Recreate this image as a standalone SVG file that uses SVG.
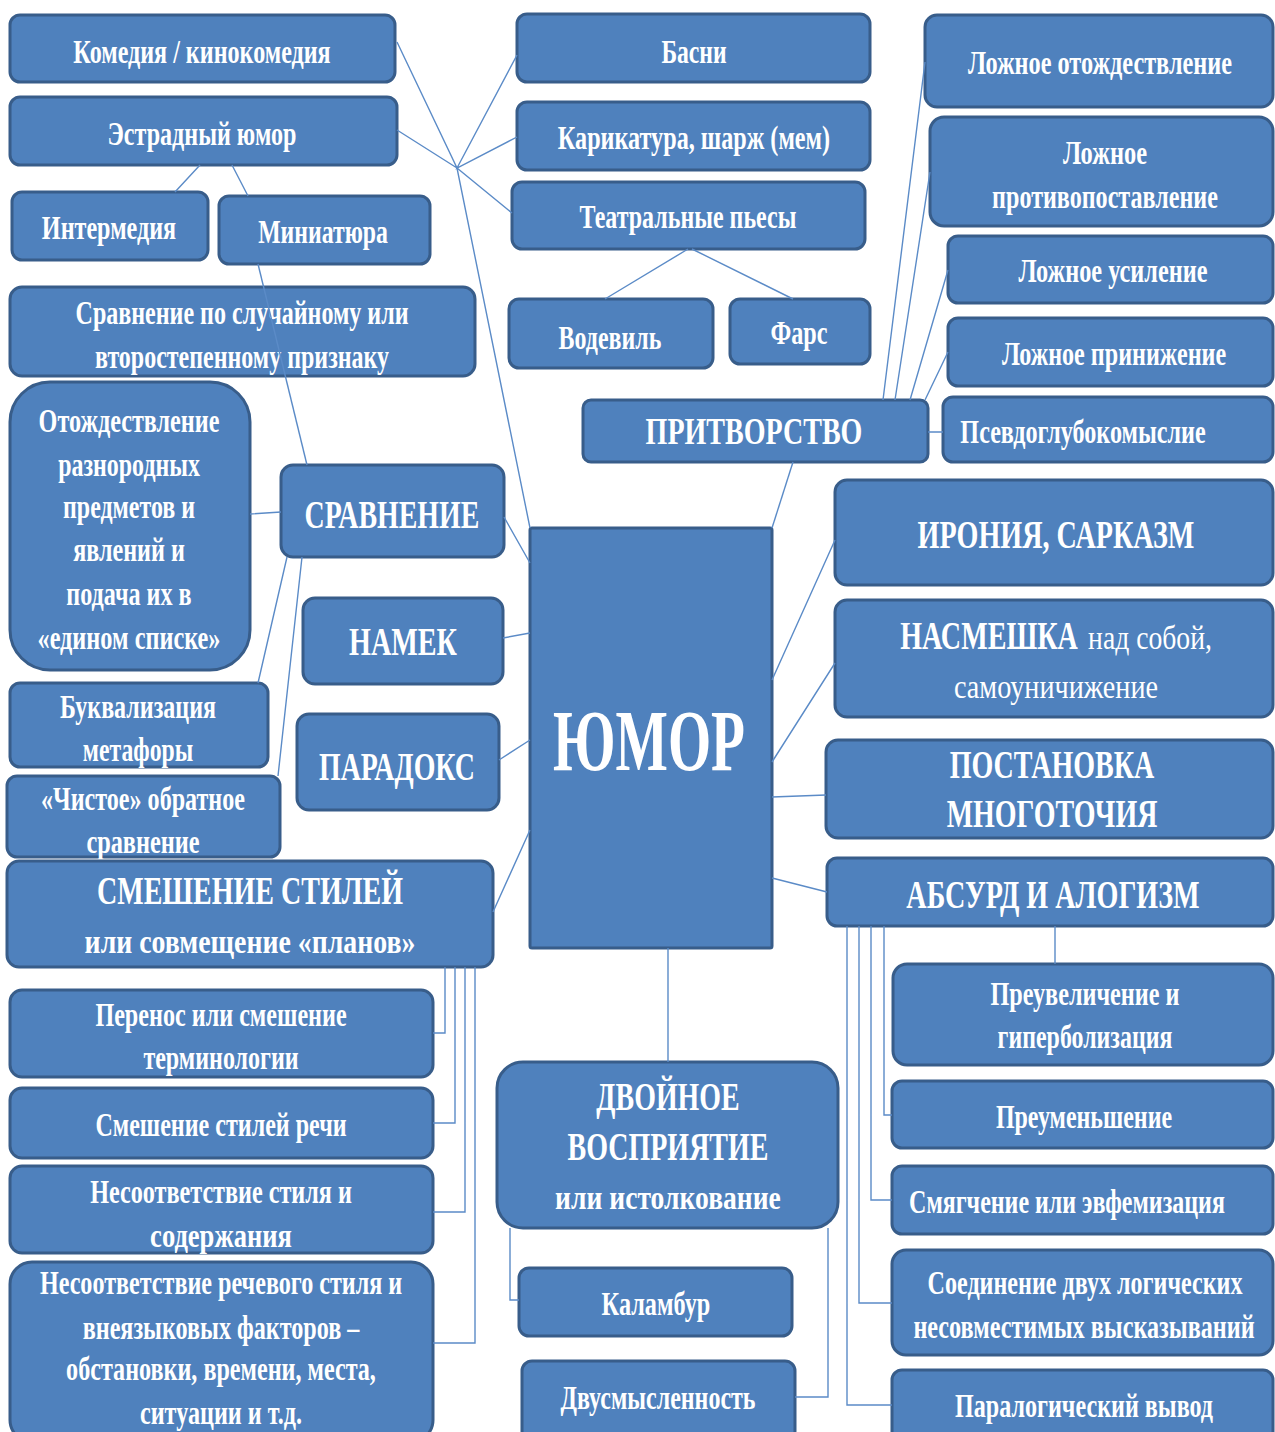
<svg xmlns="http://www.w3.org/2000/svg" width="1275" height="1432" viewBox="0 0 1275 1432">
<style>
.n rect{fill:#4F81BD;stroke:#385D8A;stroke-width:3}
text{font-family:"Liberation Serif","Times New Roman",serif;font-weight:bold;fill:#fff;text-anchor:middle;font-size:33px;transform-box:fill-box;transform-origin:center;transform:scaleX(0.75)}
.h{font-size:39px}
.r{font-weight:normal}
.c{stroke:#5B8BC7;stroke-width:1.4;fill:none}
</style>
<rect width="1275" height="1432" fill="#fff"/>
<g id="n1" class="n"><rect x="10" y="15" width="385" height="67" rx="10"/><text x="202" y="63" textLength="343" lengthAdjust="spacingAndGlyphs">Комедия / кинокомедия</text></g>
<g id="n2" class="n"><rect x="10" y="97" width="387" height="68" rx="10"/><text x="202" y="145" textLength="252" lengthAdjust="spacingAndGlyphs">Эстрадный юмор</text></g>
<g id="n3" class="n"><rect x="12" y="192" width="196" height="68" rx="10"/><text x="109" y="239" textLength="179" lengthAdjust="spacingAndGlyphs">Интермедия</text></g>
<g id="n4" class="n"><rect x="219" y="196" width="211" height="68" rx="10"/><text x="323" y="243" textLength="173" lengthAdjust="spacingAndGlyphs">Миниатюра</text></g>
<g id="n5" class="n"><rect x="517" y="14" width="353" height="68" rx="10"/><text x="694" y="63" textLength="87" lengthAdjust="spacingAndGlyphs">Басни</text></g>
<g id="n6" class="n"><rect x="517" y="102" width="353" height="68" rx="10"/><text x="694" y="149" textLength="363" lengthAdjust="spacingAndGlyphs">Карикатура, шарж (мем)</text></g>
<g id="n7" class="n"><rect x="512" y="182" width="353" height="67" rx="10"/><text x="688" y="228" textLength="289" lengthAdjust="spacingAndGlyphs">Театральные пьесы</text></g>
<g id="n8" class="n"><rect x="509" y="299" width="204" height="69" rx="10"/><text x="610" y="349" textLength="137" lengthAdjust="spacingAndGlyphs">Водевиль</text></g>
<g id="n9" class="n"><rect x="730" y="299" width="140" height="65" rx="10"/><text x="799" y="344" textLength="76" lengthAdjust="spacingAndGlyphs">Фарс</text></g>
<g id="n10" class="n"><rect x="925" y="15" width="348" height="92" rx="12"/><text x="1100" y="74" textLength="352" lengthAdjust="spacingAndGlyphs">Ложное отождествление</text></g>
<g id="n11" class="n"><rect x="930" y="117" width="343" height="109" rx="14"/><text x="1105" y="164" textLength="112" lengthAdjust="spacingAndGlyphs">Ложное</text><text x="1105" y="208" textLength="301" lengthAdjust="spacingAndGlyphs">противопоставление</text></g>
<g id="n12" class="n"><rect x="948" y="236" width="325" height="67" rx="10"/><text x="1113" y="282" textLength="252" lengthAdjust="spacingAndGlyphs">Ложное усиление</text></g>
<g id="n13" class="n"><rect x="948" y="318" width="325" height="68" rx="10"/><text x="1114" y="365" textLength="299" lengthAdjust="spacingAndGlyphs">Ложное принижение</text></g>
<g id="n14" class="n"><rect x="943" y="397" width="330" height="65" rx="10"/><text x="1083" y="443" textLength="327" lengthAdjust="spacingAndGlyphs">Псевдоглубокомыслие</text></g>
<g id="n15" class="n"><rect x="583" y="400" width="345" height="62" rx="8"/><text class="h" x="754" y="444" style="font-size:37px" textLength="289" lengthAdjust="spacingAndGlyphs">ПРИТВОРСТВО</text></g>
<g id="n16" class="n"><rect x="10" y="287" width="465" height="89" rx="12"/><text x="242" y="324" textLength="444" lengthAdjust="spacingAndGlyphs">Сравнение по случайному или</text><text x="242" y="368" textLength="392" lengthAdjust="spacingAndGlyphs">второстепенному признаку</text></g>
<g id="n17" class="n"><rect x="10" y="382" width="240" height="288" rx="40"/><text x="129" y="432" textLength="241" lengthAdjust="spacingAndGlyphs">Отождествление</text><text x="129" y="476" textLength="189" lengthAdjust="spacingAndGlyphs">разнородных</text><text x="129" y="518" textLength="176" lengthAdjust="spacingAndGlyphs">предметов и</text><text x="129" y="561" textLength="149" lengthAdjust="spacingAndGlyphs">явлений и</text><text x="129" y="605" textLength="167" lengthAdjust="spacingAndGlyphs">подача их в</text><text x="129" y="649" textLength="244" lengthAdjust="spacingAndGlyphs">«едином списке»</text></g>
<g id="n18" class="n"><rect x="281" y="465" width="223" height="92" rx="12"/><text class="h" x="392" y="528" textLength="233" lengthAdjust="spacingAndGlyphs">СРАВНЕНИЕ</text></g>
<g id="n19" class="n"><rect x="303" y="598" width="200" height="86" rx="12"/><text class="h" x="403" y="655" textLength="144" lengthAdjust="spacingAndGlyphs">НАМЕК</text></g>
<g id="n20" class="n"><rect x="297" y="714" width="202" height="96" rx="12"/><text class="h" x="397" y="780" textLength="208" lengthAdjust="spacingAndGlyphs">ПАРАДОКС</text></g>
<g id="n21" class="n"><rect x="10" y="683" width="258" height="84" rx="10"/><text x="138" y="718" textLength="208" lengthAdjust="spacingAndGlyphs">Буквализация</text><text x="138" y="761" textLength="147" lengthAdjust="spacingAndGlyphs">метафоры</text></g>
<g id="n22" class="n"><rect x="7" y="776" width="273" height="81" rx="10"/><text x="143" y="810" textLength="272" lengthAdjust="spacingAndGlyphs">«Чистое» обратное</text><text x="143" y="853" textLength="151" lengthAdjust="spacingAndGlyphs">сравнение</text></g>
<g id="n23" class="n"><rect x="7" y="861" width="486" height="106" rx="12"/><text x="250" y="904" style="font-size:41px" textLength="408" lengthAdjust="spacingAndGlyphs">СМЕШЕНИЕ СТИЛЕЙ</text><text x="250" y="953" style="font-size:34px" textLength="441" lengthAdjust="spacingAndGlyphs">или совмещение «планов»</text></g>
<g id="n24" class="n"><rect x="530" y="528" width="242" height="420" rx="2"/><text x="649" y="770" style="font-size:86px" textLength="256" lengthAdjust="spacingAndGlyphs">ЮМОР</text></g>
<g id="n25" class="n"><rect x="835" y="480" width="438" height="105" rx="12"/><text class="h" x="1056" y="548" textLength="369" lengthAdjust="spacingAndGlyphs">ИРОНИЯ, САРКАЗМ</text></g>
<g id="n26" class="n"><rect x="835" y="600" width="438" height="117" rx="12"/><text class="h" x="989" y="649" textLength="237" lengthAdjust="spacingAndGlyphs">НАСМЕШКА</text><text class="r" x="1150" y="649" textLength="165" lengthAdjust="spacingAndGlyphs">над собой,</text><text class="r" x="1056" y="698" textLength="272" lengthAdjust="spacingAndGlyphs">самоуничижение</text></g>
<g id="n27" class="n"><rect x="826" y="740" width="447" height="98" rx="12"/><text class="h" x="1052" y="778" textLength="273" lengthAdjust="spacingAndGlyphs">ПОСТАНОВКА</text><text class="h" x="1052" y="827" textLength="281" lengthAdjust="spacingAndGlyphs">МНОГОТОЧИЯ</text></g>
<g id="n28" class="n"><rect x="827" y="858" width="446" height="68" rx="10"/><text class="h" x="1053" y="908" textLength="391" lengthAdjust="spacingAndGlyphs">АБСУРД И АЛОГИЗМ</text></g>
<g id="n29" class="n"><rect x="10" y="990" width="423" height="87" rx="12"/><text x="221" y="1026" textLength="335" lengthAdjust="spacingAndGlyphs">Перенос или смешение</text><text x="221" y="1069" textLength="207" lengthAdjust="spacingAndGlyphs">терминологии</text></g>
<g id="n30" class="n"><rect x="10" y="1088" width="423" height="70" rx="12"/><text x="221" y="1136" textLength="335" lengthAdjust="spacingAndGlyphs">Смешение стилей речи</text></g>
<g id="n31" class="n"><rect x="10" y="1166" width="423" height="87" rx="12"/><text x="221" y="1203" textLength="349" lengthAdjust="spacingAndGlyphs">Несоответствие стиля и</text><text x="221" y="1247" textLength="189" lengthAdjust="spacingAndGlyphs">содержания</text></g>
<g id="n32" class="n"><rect x="10" y="1262" width="423" height="180" rx="22"/><text x="221" y="1294" textLength="483" lengthAdjust="spacingAndGlyphs">Несоответствие речевого стиля и</text><text x="221" y="1339" textLength="369" lengthAdjust="spacingAndGlyphs">внеязыковых факторов –</text><text x="221" y="1380" textLength="413" lengthAdjust="spacingAndGlyphs">обстановки, времени, места,</text><text x="221" y="1424" textLength="216" lengthAdjust="spacingAndGlyphs">ситуации и т.д.</text></g>
<g id="n33" class="n"><rect x="497" y="1062" width="341" height="166" rx="26"/><text class="h" x="668" y="1110" textLength="191" lengthAdjust="spacingAndGlyphs">ДВОЙНОЕ</text><text class="h" x="668" y="1160" textLength="268" lengthAdjust="spacingAndGlyphs">ВОСПРИЯТИЕ</text><text x="668" y="1209" style="font-size:34px" textLength="301" lengthAdjust="spacingAndGlyphs">или истолкование</text></g>
<g id="n34" class="n"><rect x="519" y="1268" width="273" height="68" rx="10"/><text x="656" y="1315" textLength="145" lengthAdjust="spacingAndGlyphs">Каламбур</text></g>
<g id="n35" class="n"><rect x="522" y="1361" width="273" height="80" rx="10"/><text x="658" y="1409" textLength="260" lengthAdjust="spacingAndGlyphs">Двусмысленность</text></g>
<g id="n36" class="n"><rect x="893" y="964" width="380" height="101" rx="14"/><text x="1085" y="1005" textLength="252" lengthAdjust="spacingAndGlyphs">Преувеличение и</text><text x="1085" y="1048" textLength="233" lengthAdjust="spacingAndGlyphs">гиперболизация</text></g>
<g id="n37" class="n"><rect x="892" y="1081" width="381" height="67" rx="10"/><text x="1084" y="1128" textLength="235" lengthAdjust="spacingAndGlyphs">Преуменьшение</text></g>
<g id="n38" class="n"><rect x="892" y="1166" width="381" height="68" rx="10"/><text x="1067" y="1213" textLength="421" lengthAdjust="spacingAndGlyphs">Смягчение или эвфемизация</text></g>
<g id="n39" class="n"><rect x="892" y="1250" width="381" height="105" rx="14"/><text x="1085" y="1294" textLength="420" lengthAdjust="spacingAndGlyphs">Соединение двух логических</text><text x="1084" y="1338" textLength="455" lengthAdjust="spacingAndGlyphs">несовместимых высказываний</text></g>
<g id="n40" class="n"><rect x="892" y="1370" width="381" height="72" rx="10"/><text x="1084" y="1417" textLength="344" lengthAdjust="spacingAndGlyphs">Паралогический вывод</text></g>
<g id="connectors" class="c">
<path d="M397 42L457 168L530 528M397 130L457 168M517 55L457 168L517 137M457 168L512 213"/>
<path d="M200 165L175 192M232 165L248 196"/>
<path d="M688 249L605 299M692 249L793 299"/>
<path d="M258 264L307 465"/>
<path d="M250 514L281 512M287 557L258 683M302 557L278 776"/>
<path d="M504 517L530 563M503 638L530 633M499 760L530 740M493 912L530 830"/>
<path d="M793 462L772 528"/>
<path d="M883 400L925 62M895 400L930 172M910 400L948 270M925 400L948 352M928 432L943 432"/>
<path d="M772 680L835 540M772 762L835 663M772 797L826 795M772 878L827 892"/>
<path d="M668 948L668 1062"/>
<path d="M510 1228V1300H519M828 1228V1397H795"/>
<path d="M445 967V1033H433M455 967V1123H433M465 967V1212H433M475 967V1343H433"/>
<path d="M1055 926V964M884 926V1115H892M871 926V1200H892M859 926V1303H892M847 926V1405H892"/>
</g>
</svg>
